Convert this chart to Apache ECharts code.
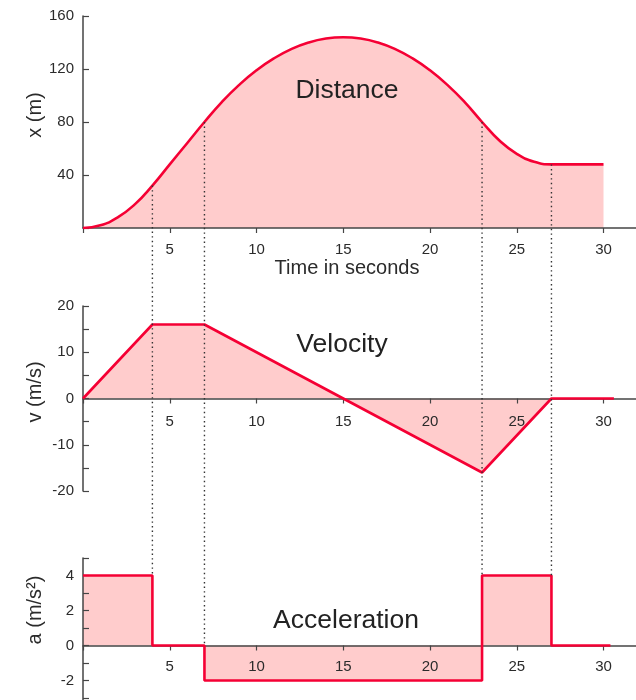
<!DOCTYPE html>
<html>
<head>
<meta charset="utf-8">
<script src="https://cdn.jsdelivr.net/npm/echarts@6/dist/echarts.min.js"></script>
<style>
html,body{margin:0;padding:0;background:#fff;}
#chart{width:636px;height:700px;}
</style>
</head>
<body>
<div id="chart"></div>
<script>
// ---- data ----
var distanceTimes = [0,1,2,3,4,5,6,7,8,9,10,11,12,13,14,15,16,17,18,19,20,21,22,23,24,25,26,27,28,29,30];
var distanceValues = [0,2,8,18,32,48,64,80,95,108,119,128,135,140,143,144,143,140,135,128,119,108,95,80,66,56,50,48,48,48,48];

var velocityTimes = [0,4,7,15,23,27,30.6];
var velocityValues = [0,16,16,0,-16,0,0];

var accelTimes = [0,4,4,7,7,23,23,27,27,30.4];
var accelValues = [4,4,0,0,-2,-2,4,4,0,0];

var dropTimes = [4,7,23,27];
var dropAccelLevel = [4,0,4,4];

var distanceTicks = [40,80,120,160];
var timeTicks = [5,10,15,20,25,30];
var panelTitles = ['Distance','Velocity','Acceleration'];
var axisNames = ['x (m)','v (m/s)','a (m/s\u00b2)','Time in seconds'];

// ---- styling ----
var RED = '#f50034';
var PINK = '#ffcccc';
var AX = '#454545';
var TXT = '#2b2b2b';
var FONT = '"Liberation Sans", Arial, Helvetica, sans-serif';

function pairs(xs, ys){ return xs.map(function(x,i){ return [x, ys[i]]; }); }

function xAxisCfg(idx, margin){
  return {
    type:'value', gridIndex: idx, min:0, max:32, interval:5, position:'bottom', z:5,
    axisLine:{show:true, onZero:false, lineStyle:{color:AX, width:1.5}},
    axisTick:{show:true, inside:false, length:5, lineStyle:{color:AX, width:1.2}},
    axisLabel:{color:TXT, fontSize:15, fontFamily:FONT, margin:margin,
      formatter:function(v){ return timeTicks.indexOf(v) >= 0 ? String(v) : ''; }},
    splitLine:{show:false}
  };
}

function yAxisCfg(idx, extra){
  var o = {type:'value', gridIndex:idx, z:5,
    axisLine:{show:true, lineStyle:{color:AX, width:1.5}},
    axisTick:{show:true, inside:true, length:6, lineStyle:{color:AX, width:1.2}},
    axisLabel:{color:TXT, fontSize:15, fontFamily:FONT, margin:9},
    splitLine:{show:false}};
  for (var k in extra) o[k] = extra[k];
  return o;
}

var chart = echarts.init(document.getElementById('chart'), null, {renderer:'canvas'});

var grids = [
  {left:83, width:555.2, top:16, height:212, outerBoundsMode:'none', containLabel:false},
  {left:83, width:555.2, top:306, height:185, outerBoundsMode:'none', containLabel:false},
  {left:83, width:555.2, top:558, height:157.5, outerBoundsMode:'none', containLabel:false}
];

function areaSeries(i, data){
  return {type:'line', xAxisIndex:i, yAxisIndex:i, data:data, smooth:i === 0,
    showSymbol:false, symbol:'none', lineStyle:{width:0, opacity:0},
    areaStyle:{color:PINK, opacity:1, origin:0}, z:2, silent:true};
}
function lineSeries(i, data){
  return {type:'line', xAxisIndex:i, yAxisIndex:i, data:data, smooth:i === 0,
    showSymbol:false, symbol:'none', lineStyle:{color:RED, width:2.6}, z:8};
}

var dData = pairs(distanceTimes, distanceValues);
var vData = pairs(velocityTimes, velocityValues);
var aData = pairs(accelTimes, accelValues);

var option = {
  animation:false,
  backgroundColor:'#ffffff',
  textStyle:{fontFamily:FONT},
  grid: grids,
  xAxis:[ xAxisCfg(0, 14), xAxisCfg(1, 16), xAxisCfg(2, 14) ],
  yAxis:[
    yAxisCfg(0, {min:0, max:160, interval:40,
      axisLabel:{color:TXT, fontSize:15, fontFamily:FONT, margin:9,
        formatter:function(v){ return distanceTicks.indexOf(v) >= 0 ? String(v) : ''; }}}),
    yAxisCfg(1, {min:-20, max:20, interval:10,
      minorTick:{show:true, splitNumber:2, length:6, lineStyle:{color:AX, width:1.2}},
      minorSplitLine:{show:false}}),
    yAxisCfg(2, {min:-4, max:5, interval:1,
      axisLabel:{color:TXT, fontSize:15, fontFamily:FONT, margin:9,
        formatter:function(v){ return (v % 2 === 0 && v <= 4 && v >= -2) ? String(v) : ''; }}})
  ],
  series:[
    areaSeries(0, dData), lineSeries(0, dData),
    areaSeries(1, vData), lineSeries(1, vData),
    areaSeries(2, aData), lineSeries(2, aData)
  ]
};
chart.setOption(option);

// move the lower two time axes onto their zero lines (offset from the grid bottom, via the scales)
function zeroOffset(gi){
  var g = grids[gi];
  var p = chart.convertToPixel({xAxisIndex:gi, yAxisIndex:gi}, [0, 0]);
  return -((g.top + g.height) - p[1]);
}
chart.setOption({xAxis:[{}, {offset: zeroOffset(1)}, {offset: zeroOffset(2)}]});

// dotted drop lines and text, positioned through the library's scales
var graphics = [];
dropTimes.forEach(function(t, i){
  var top = chart.convertToPixel({xAxisIndex:0, yAxisIndex:0}, [t, distanceValues[distanceTimes.indexOf(t)]]);
  var bot = chart.convertToPixel({xAxisIndex:2, yAxisIndex:2}, [t, dropAccelLevel[i]]);
  graphics.push({type:'line', z:10, silent:true,
    shape:{x1:top[0], y1:top[1], x2:bot[0], y2:bot[1]},
    style:{stroke:'#333', lineWidth:1.4, lineDash:[1.4,3.2]}});
});
var titlePos = [[347,91],[342,345],[346,621]];
panelTitles.forEach(function(s, i){
  graphics.push({type:'text', z:20, x:titlePos[i][0], y:titlePos[i][1],
    style:{text:s, fill:'#222', font:'26.5px ' + FONT, textAlign:'center', textVerticalAlign:'middle'}});
});
var namePos = [[35,115],[35,392],[35,610]];
for (var j = 0; j < 3; j++){
  graphics.push({type:'text', z:20, x:namePos[j][0], y:namePos[j][1], rotation:Math.PI/2,
    style:{text:axisNames[j], fill:TXT, font:'20px ' + FONT, textAlign:'center', textVerticalAlign:'middle'}});
}
graphics.push({type:'text', z:20, x:347, y:268,
  style:{text:axisNames[3], fill:TXT, font:'20px ' + FONT, textAlign:'center', textVerticalAlign:'middle'}});
chart.setOption({graphic:graphics});
</script>
</body>
</html>
